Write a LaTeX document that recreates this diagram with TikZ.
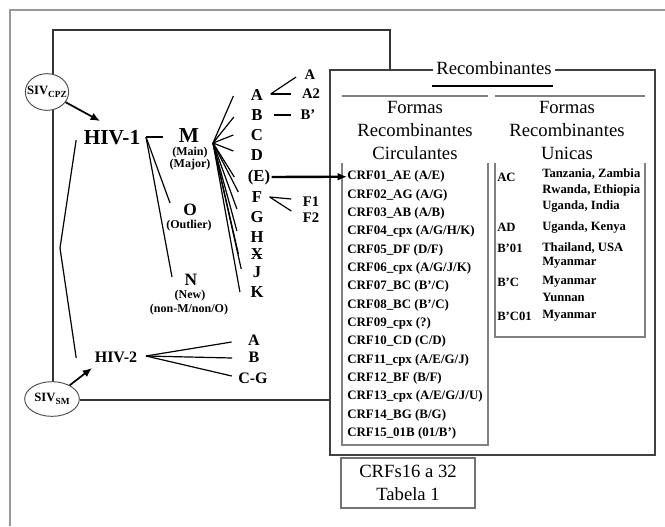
\documentclass[tikz,border=0pt]{standalone}
\usepackage{fontspec}
\setmainfont{Liberation Serif}
\usetikzlibrary{arrows.meta,calc,shapes.geometric}
\begin{document}
\begin{tikzpicture}[x=0.75pt,y=-0.75pt,
  ln/.style={line width=0.9pt,draw=black},
  fr/.style={draw=black!80,line width=1pt},
  rb/.style={draw=black!75,line width=1.3pt},
  gr/.style={draw=black!50,line width=0.8pt},
  bigt/.style={font=\fontsize{16}{18}\selectfont\bfseries, inner sep=1pt},
  midt/.style={font=\fontsize{13}{15}\selectfont\bfseries, inner sep=0pt},
  h2t/.style={font=\fontsize{12}{14}\selectfont\bfseries, inner sep=1pt},
  subt/.style={font=\fontsize{12.5}{14}\selectfont\bfseries, inner sep=1pt},
  ssub/.style={font=\fontsize{11}{13}\selectfont\bfseries, inner sep=1pt},
  prn/.style={font=\fontsize{9}{10}\selectfont\bfseries, inner sep=0pt},
  lst/.style={font=\fontsize{9.7}{11}\selectfont\bfseries, anchor=west, inner sep=0pt},
  ulst/.style={font=\fontsize{9.5}{11}\selectfont\bfseries, anchor=west, inner sep=0pt},
  hdr/.style={font=\fontsize{14}{17.25}\selectfont, align=center, inner sep=0pt},
  siv/.style={draw=black!70, line width=0.7pt, ellipse, inner sep=0pt, fill=white, font=\fontsize{9.5}{11}\selectfont\bfseries},
  arr/.style={-{Latex[length=7pt,width=6pt]}, line width=1.3pt},
  earr/.style={-{Latex[length=7pt,width=6pt]}, line width=1.8pt}
]
\useasboundingbox (0,0) rectangle (665,526);
\fill[white] (0,0) rectangle (665,526);

% outer frame
\draw[draw=black!40, line width=1pt] (10,526) -- (10,10) -- (665,10);

% tree box
\draw[fr] (53,382) -- (53,30) -- (390,30) -- (390,70);
\draw[fr] (80,400) -- (330,400);

% recombinantes box
\draw[rb] (330,70) rectangle (655,455);
\node[hdr, fill=white, inner xsep=2.5pt, inner ysep=2pt] (rtitle) at (494,68) {Recombinantes};
\draw[line width=0.9pt] (432,86) -- (553,86);
\draw[gr] (342,96) -- (488,96);
\draw[gr] (495,96) -- (645,96);
\node[hdr] (lhead) at (415,130) {Formas\\Recombinantes\\Circulantes};
\node[hdr] (rhead) at (567,130) {Formas\\Recombinantes\\Unicas};
\draw[gr] (342,163) -- (342,445) -- (488,445) -- (488,163);
\draw[gr] (495,163) -- (495,337) -- (645,337) -- (645,163);

% CRF list
\foreach \t [count=\i] in {CRF01\_AE (A/E),CRF02\_AG (A/G),CRF03\_AB (A/B),CRF04\_cpx (A/G/H/K),CRF05\_DF (D/F),CRF06\_cpx (A/G/J/K),CRF07\_BC (B'/C),CRF08\_BC (B'/C),CRF09\_cpx (?),CRF10\_CD (C/D),CRF11\_cpx (A/E/G/J),CRF12\_BF (B/F),CRF13\_cpx (A/E/G/J/U),CRF14\_BG (B/G),CRF15\_01B (01/B')}
  \node[lst] (crf\i) at (347,{176.7+(\i-1)*18.33}) {\t};

% URF list
\node[ulst] (kAC) at (497,177) {AC};
\node[ulst] (vAC1) at (542,174) {Tanzania, Zambia};
\node[ulst] (vAC2) at (542,190) {Rwanda, Ethiopia};
\node[ulst] (vAC3) at (542,206) {Uganda, India};
\node[ulst] (kAD) at (497,227) {AD};
\node[ulst] (vAD) at (542,227) {Uganda, Kenya};
\node[ulst] (kB01) at (497,248) {B'01};
\node[ulst] (vB011) at (542,248) {Thailand, USA};
\node[ulst] (vB012) at (542,263) {Myanmar};
\node[ulst] (kBC) at (497,282) {B'C};
\node[ulst] (vBC1) at (542,282) {Myanmar};
\node[ulst] (vBC2) at (542,297) {Yunnan};
\node[ulst] (kBC01) at (497,316) {B'C01};
\node[ulst] (vBC01) at (542,316) {Myanmar};

% CRFs 16 a 32
\node[hdr, draw=black!55, line width=0.8pt, minimum width=100.5pt, minimum height=37.5pt] (crfs) at (408,483) {CRFs16 a 32\\Tabela 1};

% tree nodes
\node[siv, minimum width=32.5pt, minimum height=27.5pt] (sivcpz) at (47,92) {\makebox[0pt]{SIV\raisebox{-0.45ex}{\fontsize{7}{8}\selectfont CPZ}}};
\node[siv, minimum width=41pt, minimum height=26pt] (sivsm) at (52,399) {\makebox[0pt]{SIV\raisebox{-0.45ex}{\fontsize{7}{8}\selectfont SM}}};
\node[bigt] (hiv1) at (112,138) {HIV-1};
\node[bigt, inner sep=0pt] (m) at (189,136) {M};
\node[prn] (mmain) at (190,153) {(Main)};
\node[prn] (mmajor) at (190,165) {(Major)};
\node[midt] (o) at (190,210) {O};
\node[prn] (oout) at (189,226) {(Outlier)};
\node[midt] (n) at (191,280) {N};
\node[prn] (nnew) at (190,296) {(New)};
\node[prn] (nnon) at (189,310) {(non-M/non/O)};
\node[h2t] (hiv2) at (116,357) {HIV-2};

% subtypes of M
\node[subt] (sA) at (257,95) {A};
\node[subt] (sB) at (257,115) {B};
\node[subt] (sC) at (257,135) {C};
\node[subt] (sD) at (257,155) {D};
\node[subt] (sE) at (259,177) {(E)};
\node[subt] (sF) at (257,197) {F};
\node[subt] (sG) at (257,217) {G};
\node[subt] (sH) at (257,237) {H};
\node[subt] (sX) at (257,254) {X\llap{\rule[0.25em]{0.62em}{0.1em}\hspace{0.05em}}};
\node[subt] (sJ) at (257,272) {J};
\node[subt] (sK) at (257,292) {K};

\node[ssub] (sAa) at (310,75) {A};
\node[ssub] (sA2) at (311,94) {A2};
\node[ssub] (sBp) at (308,115) {B'};
\node[ssub] (sF1) at (311,202) {F1};
\node[ssub] (sF2) at (311,218) {F2};

% HIV-2 subtypes
\node[h2t] (tA) at (254,340) {A};
\node[h2t] (tB) at (254,357) {B};
\node[h2t] (tCG) at (253,378) {C-G};

% coordinates
\coordinate (a1) at (100,121);
\coordinate (a2) at (92,368);
\coordinate (j1) at (146,137);
\coordinate (fm) at (213,143);
\coordinate (h2) at (146,356);
\coordinate (bend) at (60,248);

% connectors
\draw[arr] (sivcpz) -- (a1);
\draw[arr] (sivsm) -- (a2);
\draw[ln] ($(hiv1.west)+(-6,2)$) -- (bend) -- ($(hiv2.west)+(-17,1)$);
\draw[ln] (j1) -- (163,137);
\draw[ln] (j1) -- (170,203);
\draw[ln] (j1) -- (172,277);

\foreach \s/\dx/\dy in {sA/-16/1,sB/-16/2,sC/-16/0,sD/-16/-4,sE/-12/0,sF/-12/-5,sG/-12/-8,sH/-12/-6,sX/-11/0,sJ/-10/-3,sK/-9/0}
  \draw[ln] (fm) -- ($(\s.west)+(\dx,\dy)$);

\draw[ln] ($(sA.east)+(6,-1)$) -- ($(sAa.west)+(-7,2)$);
\draw[ln] ($(sA.east)+(6,-1)$) -- ($(sA2.west)+(-9,0)$);
\draw[ln] ($(sB.east)+(10,0)$) -- ($(sBp.west)+(-8,0)$);
\draw[ln] ($(sF.east)+(6,0)$) -- ($(sF1.west)+(-10,-3)$);
\draw[ln] ($(sF.east)+(6,0)$) -- ($(sF2.west)+(-10,-7)$);

\draw[earr] (sE.east) -- (crf1.west);

\draw[ln] (h2) -- ($(tA.west)+(-15,2)$);
\draw[ln] (h2) -- ($(tB.west)+(-15,1)$);
\draw[ln] (h2) -- ($(tCG.west)+(-5,-2)$);
\end{tikzpicture}
\end{document}
